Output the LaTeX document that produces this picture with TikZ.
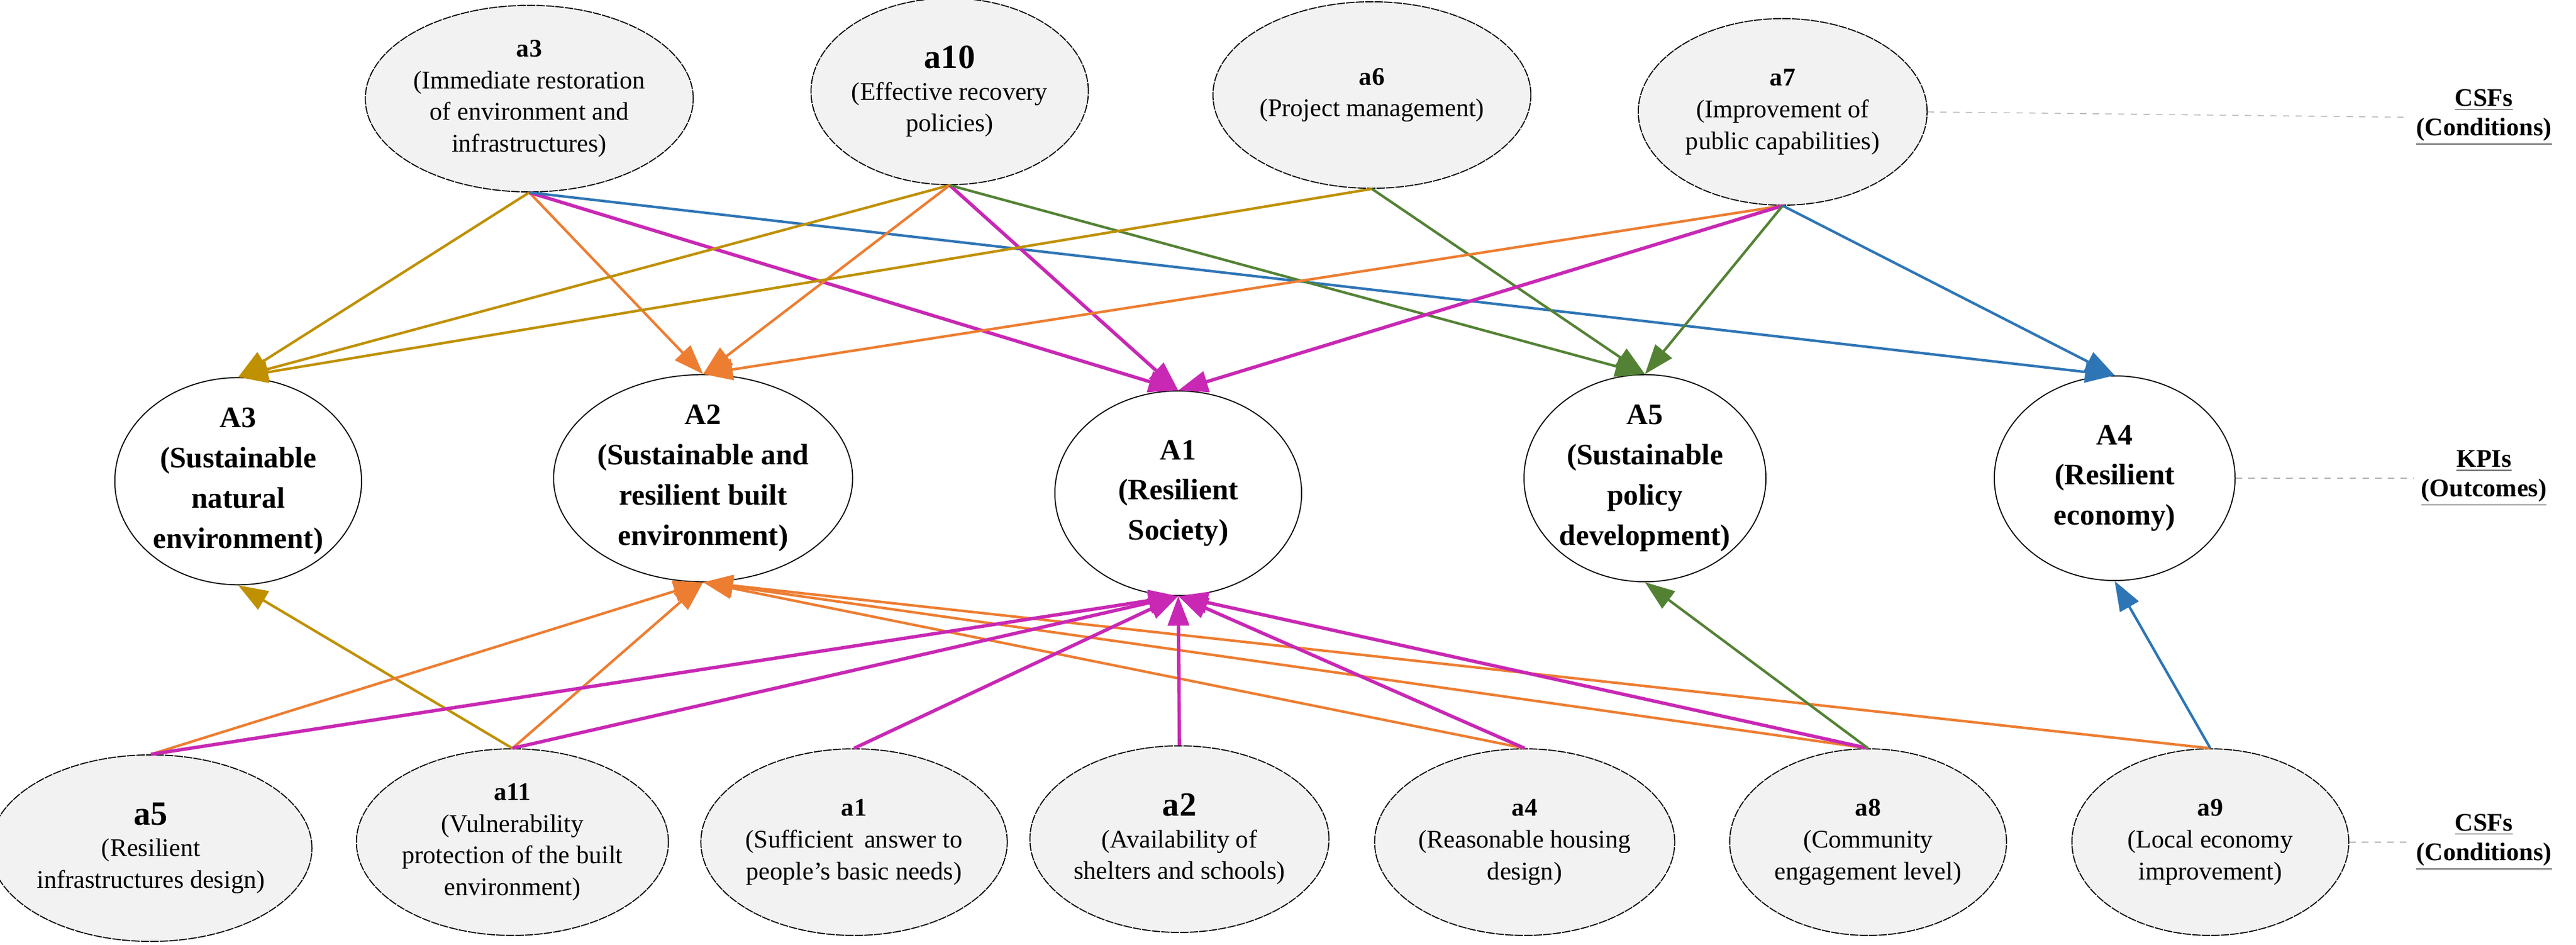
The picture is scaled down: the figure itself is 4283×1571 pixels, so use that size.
\documentclass[tikz,border=0pt]{standalone}
\usepackage{fontspec}
\setmainfont{Liberation Serif}
\usetikzlibrary{shapes.geometric,arrows.meta}
\definecolor{cgold}{HTML}{BF9000}
\definecolor{corange}{HTML}{ED7D31}
\definecolor{cmag}{HTML}{C828B4}
\definecolor{cblue}{HTML}{2E75B6}
\definecolor{cgreen}{HTML}{548235}
\definecolor{cfill}{HTML}{F2F2F2}
\begin{document}
\begin{tikzpicture}[x=0.01cm,y=-0.01cm,
 cs/.style={ellipse,draw=black,line width=0.5pt,dash pattern=on 4pt off 0.5pt,fill=cfill,inner sep=0pt,minimum width=4.6cm,minimum height=3.1cm,align=center,font=\fontsize{12}{15}\selectfont},
 kp/.style={ellipse,draw=black,line width=0.5pt,fill=white,inner sep=0pt,minimum width=4.1cm,minimum height=3.4cm,align=center,font=\bfseries\fontsize{14}{19}\selectfont},
 ed/.style={-{Triangle[length=14pt,width=10pt]},line width=1.2pt},
 mg/.style={ed,cmag,line width=1.6pt},
 lab/.style={font=\bfseries\fontsize{12}{14}\selectfont,align=center},
 gd/.style={draw=gray!60,dashed,thin}]
\useasboundingbox (0,0) rectangle (4283,1571);
% top
\node[cs] (a3) at (880,164) {\textbf{\large a3}\\(Immediate restoration\\of environment and\\infrastructures)};
\node[cs,minimum width=4.4cm] (a10) at (1579,152) {\textbf{\fontsize{16}{19}\selectfont a10}\\(Effective recovery\\policies)};
\node[cs,minimum width=4.4cm] (a6) at (2281,158) {\textbf{\large a6}\\(Project management)};
\node[cs,minimum width=4.8cm] (a7) at (2964,186) {\textbf{\large a7}\\(Improvement of\\public capabilities)};
% middle
\node[kp] (A3) at (396,800) {A3\\(Sustainable\\natural\\environment)};
\node[kp] (A2) at (1169,795) {A2\\(Sustainable and\\resilient built\\environment)};
\node[kp] (A1) at (1959,820) {A1\\(Resilient\\Society)};
\node[kp,minimum width=4.0cm] (A5) at (2735,795) {A5\\(Sustainable\\policy\\development)};
\node[kp,minimum width=4.0cm] (A4) at (3516,795) {A4\\(Resilient\\economy)};
% bottom
\node[cs,minimum width=4.9cm] (a5) at (251,1410) {\textbf{\fontsize{16}{19}\selectfont a5}\\(Resilient\\infrastructures design)};
\node[cs,minimum width=4.9cm] (a11) at (852,1400) {\textbf{\large a11}\\(Vulnerability\\protection of the built\\environment)};
\node[cs] (a1) at (1420,1400) {\textbf{a1}\\(Sufficient\, answer to\\people’s basic needs)};
\node[cs] (a2) at (1961,1395) {\textbf{\fontsize{16}{19}\selectfont a2}\\(Availability of\\shelters and schools)};
\node[cs] (a4) at (2535,1400) {\textbf{\large a4}\\(Reasonable housing\\design)};
\node[cs] (a8) at (3106,1400) {\textbf{\large a8}\\(Community\\engagement level)};
\node[cs] (a9) at (3675,1400) {\textbf{a9}\\(Local economy\\improvement)};
% labels
\node[lab] (L1) at (4130,195) {\underline{CSFs}\\\underline{(Conditions)}};
\node[lab] (L2) at (4130,795) {\underline{KPIs}\\\underline{(Outcomes)}};
\node[lab] (L3) at (4130,1400) {\underline{CSFs}\\\underline{(Conditions)}};
\draw[gd] (a7.east) -- (L1.west);
\draw[gd] (A4.east) -- (L2.west);
\draw[gd] (a9.east) -- (L3.west);
% top edges
\draw[ed,cgold] (a3.south) -- (A3.north);
\draw[ed,corange] (a3.south) -- (A2.north);
\draw[mg] (a3.south) -- (A1.north);
\draw[ed,cblue] (a3.south) -- (A4.north);
\draw[ed,cgold] (a10.south) -- (A3.north);
\draw[ed,corange] (a10.south) -- (A2.north);
\draw[mg] (a10.south) -- (A1.north);
\draw[ed,cgreen] (a10.south) -- (A5.north);
\draw[ed,cgold] (a6.south) -- (A3.north);
\draw[ed,cgreen] (a6.south) -- (A5.north);
\draw[ed,corange] (a7.south) -- (A2.north);
\draw[mg] (a7.south) -- (A1.north);
\draw[ed,cgreen] (a7.south) -- (A5.north);
\draw[ed,cblue] (a7.south) -- (A4.north);
% bottom edges
\draw[ed,cgold] (a11.north) -- (A3.south);
\draw[ed,corange] (a5.north) -- (A2.south);
\draw[ed,corange] (a11.north) -- (A2.south);
\draw[ed,corange] (a4.north) -- (A2.south);
\draw[ed,corange] (a8.north) -- (A2.south);
\draw[ed,corange] (a9.north) -- (A2.south);
\draw[mg] (a5.north) -- (A1.south);
\draw[mg] (a11.north) -- (A1.south);
\draw[mg] (a1.north) -- (A1.south);
\draw[mg] (a2.north) -- (A1.south);
\draw[mg] (a4.north) -- (A1.south);
\draw[mg] (a8.north) -- (A1.south);
\draw[ed,cgreen] (a8.north) -- (A5.south);
\draw[ed,cblue] (a9.north) -- (A4.south);
\end{tikzpicture}
\end{document}
